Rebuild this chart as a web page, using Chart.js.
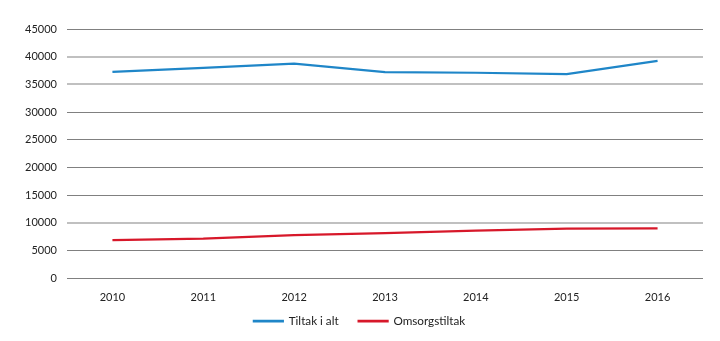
<!DOCTYPE html>
<html>
<head>
<meta charset="utf-8">
<script src="https://cdn.jsdelivr.net/npm/chart.js@4"></script>
<style>
html,body{margin:0;padding:0;background:#fff;}
#wrap{width:720px;height:341px;position:relative;}
</style>
</head>
<body>
<div id="wrap"><canvas id="c" width="720" height="341"></canvas></div>
<script>
const categories = ['2010','2011','2012','2013','2014','2015','2016'];
const tiltakIAlt = [37250, 38000, 38750, 37200, 37100, 36850, 39250];
const omsorgstiltak = [6900, 7150, 7800, 8150, 8600, 8950, 9000];
const seriesNames = ['Tiltak i alt', 'Omsorgstiltak'];
const darkTicks = [45000, 30000, 25000, 20000, 15000, 5000, 0];

const font = {family: 'Lato', size: 11};

// widen the horizontal gap between legend items without changing legend height
const legendGap = {
  id: 'legendGap',
  afterLayout(chart) {
    const lg = chart.legend;
    if (!lg || !lg.options) return;
    const base = lg.options.labels.padding;
    const extra = 10;
    lg.options.labels.padding = base + extra;
    lg.top -= extra;
    lg.left -= 2;
    lg.right -= 2;
  }
};

new Chart(document.getElementById('c'), {
  type: 'line',
  data: {
    labels: categories,
    datasets: [
      {label: seriesNames[0], data: tiltakIAlt, borderColor: '#1f86c8', backgroundColor: '#1f86c8', borderWidth: 2.2, pointRadius: 0, tension: 0},
      {label: seriesNames[1], data: omsorgstiltak, borderColor: '#d7182a', backgroundColor: '#d7182a', borderWidth: 2.2, pointRadius: 0, tension: 0}
    ]
  },
  plugins: [legendGap],
  options: {
    responsive: false,
    animation: false,
    layout: {padding: {top: 29, right: 17, left: 0, bottom: 4}},
    plugins: {
      tooltip: {enabled: false},
      legend: {
        position: 'bottom',
        labels: {boxWidth: 29, boxHeight: 0.5, color: '#222', font: {family: 'Lato', size: 11.7}, padding: 10}
      }
    },
    scales: {
      x: {
        offset: true,
        afterFit: s => { s.height = 27; },
        grid: {display: false, drawTicks: false},
        border: {display: false},
        ticks: {color: '#222', font: font, padding: 13, maxRotation: 0}
      },
      y: {
        min: 0, max: 45000,
        afterFit: s => { s.width = 67; },
        grid: {
          drawTicks: false,
          color: ctx => darkTicks.includes(ctx.tick && ctx.tick.value) ? '#808080' : '#c0c0c0',
          lineWidth: ctx => darkTicks.includes(ctx.tick && ctx.tick.value) ? 1 : 2
        },
        border: {display: false},
        ticks: {stepSize: 5000, color: '#222', font: font, padding: 10, callback: v => String(v)}
      }
    }
  }
});
</script>
</body>
</html>
